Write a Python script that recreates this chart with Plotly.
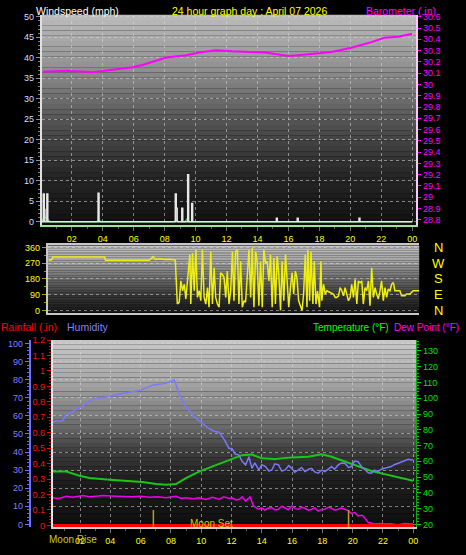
import numpy as np
import plotly.graph_objects as go

# ---------------- data ----------------
hour_ticks = [2, 4, 6, 8, 10, 12, 14, 16, 18, 20, 22, 24]
hour_labels = ["02", "04", "06", "08", "10", "12", "14", "16", "18", "20", "22", "00"]

# barometer (in)
baro_h = [0.13, 1.67, 3.35, 4.44, 5.92, 6.56, 7.46, 8.11, 9.39, 10.23, 11.32, 12.35,
          14.48, 16.02, 17.31, 18.79, 20.07, 21.36, 22.2, 23.1, 24.0]
baro_v = [30.113, 30.122, 30.108, 30.128, 30.152, 30.172, 30.209, 30.239, 30.259, 30.283,
          30.303, 30.294, 30.283, 30.253, 30.268, 30.288, 30.326, 30.375, 30.414, 30.423, 30.449]

# wind gust (mph), step series
gust_h = [0.00, 0.16, 0.22, 0.26, 0.39, 0.45, 3.70, 3.76, 8.69, 8.75, 8.81, 9.11,
          9.17, 9.49, 9.55, 9.75, 9.81, 15.22, 15.28, 16.57, 16.63, 20.56, 20.62, 24.00]
gust_v = [0, 6.8, 3.0, 0, 6.8, 0, 7.0, 0, 6.8, 3.3, 0, 3.3,
          0, 11.5, 0, 4.5, 0, 0.9, 0, 0.9, 0, 0.9, 0, 0]

# average wind (mph)
avg_h = [0.0, 0.12, 0.25, 0.35, 0.5, 0.6, 3.6, 3.7, 3.8, 3.9, 8.6, 8.75, 8.9, 9.3, 9.45, 9.6, 9.75, 24.0]
avg_v = [0, 0.6, 1.1, 1.0, 0.4, 0, 0, 0.3, 0.3, 0, 0, 0.5, 0, 0, 0.7, 0, 0, 0]

# wind direction (deg)
wd_h = [0.06, 0.26, 0.32, 3.67, 3.73, 6.56, 6.69, 6.82, 6.95, 7.21, 7.53, 7.85, 8.24, 8.37,
        8.49, 8.60, 8.71, 8.82, 8.92, 9.03, 9.18, 9.24, 9.35, 9.46, 9.57, 9.67, 9.78, 9.89,
        9.99, 10.10, 10.21, 10.32, 10.42, 10.53, 10.64, 10.75, 10.85, 10.96, 11.07, 11.17,
        11.28, 11.39, 11.50, 11.60, 11.71, 11.82, 11.93, 12.03, 12.14, 12.25, 12.35, 12.46,
        12.57, 12.68, 12.78, 13.00, 13.11, 13.21, 13.32, 13.43, 13.53, 13.64, 13.75, 13.86,
        13.96, 14.07, 14.18, 14.29, 14.39, 14.50, 14.61, 14.71, 14.82, 14.93, 15.04, 15.14,
        15.25, 15.36, 15.46, 15.57, 15.68, 15.79, 15.89, 16.00, 16.10, 16.21, 16.32, 16.43,
        16.53, 16.64, 16.75, 16.81, 16.92, 17.01, 17.13, 17.22, 17.33, 17.43, 17.56, 17.65,
        17.71, 17.82, 17.93, 18.04, 18.25, 18.46, 18.57, 18.68, 18.79, 18.89, 19.00, 19.11,
        19.21, 19.32, 19.43, 19.54, 19.64, 19.75, 19.86, 19.97, 20.07, 20.18, 20.29, 20.39,
        20.50, 20.61, 20.72, 20.82, 20.93, 21.04, 21.15, 21.25, 21.36, 21.47, 21.57, 21.68,
        21.79, 21.90, 22.00, 22.11, 22.22, 22.33, 22.43, 22.54, 22.75, 22.86, 23.08, 23.18,
        23.40, 23.50, 23.61, 23.83, 24.00]
wd_v = [285, 290, 305, 305, 287, 287, 298, 308, 292, 296, 291, 292, 288, 37,
        47, 169, 113, 150, 66, 188, 319, 37, 328, 113, 347, 75, 113, 56,
        347, 75, 37, 131, 19, 337, 37, 244, 75, 37, 19, 216,
        206, 188, 75, 225, 37, 113, 337, 56, 337, 347, 37, 281,
        19, 56, 47, 347, 75, 356, 19, 337, 281, 28, 281, 19,
        347, 272, 281, 169, 319, 19, 300, 37, 309, 206, 0, 281,
        56, 319, 169, 19, 131, 216, 94, 225, 188, 56, 28, 0,
        94, 319, 19, 347, 56, 337, 37, 281, 37, 113, 19, 281,
        56, 150, 94, 113, 103, 94, 75, 75, 84, 131, 113, 84,
        131, 84, 56, 75, 150, 75, 178, 37, 169, 159, 169, 37,
        131, 113, 169, 28, 244, 75, 131, 94, 66, 113, 169, 56,
        131, 75, 122, 113, 150, 159, 113, 113, 113, 84, 84, 94,
        94, 103, 113, 113, 113]

# humidity (%)
hum_h = [0.2, 0.46, 0.66, 0.85, 1.1, 1.38, 1.76, 2.17, 2.63, 3.07, 3.48, 3.95, 4.47, 5.04,
         5.46, 5.92, 6.38, 6.79, 7.1, 7.45, 7.76, 8.1, 8.22, 8.35, 8.55, 8.74, 8.99, 9.2,
         9.42, 9.6, 9.86, 10.19, 10.52, 10.85, 11.18, 11.51, 11.84, 12.03, 12.23, 12.49,
         12.69, 12.93, 13.15, 13.35, 13.54, 13.81, 14.0, 14.25, 14.47, 14.66, 14.86, 15.1,
         15.32, 15.54, 15.78, 15.98, 16.17, 16.42, 16.63, 16.85, 17.1, 17.29, 17.49, 17.73,
         17.95, 18.17, 18.41, 18.61, 18.8, 19.05, 19.26, 19.48, 19.73, 19.92, 20.12, 20.36,
         20.58, 20.8, 21.04, 21.24, 21.43, 21.68, 21.89, 22.11, 22.36, 22.55, 22.75, 22.99,
         23.21, 23.43, 23.67, 23.87, 24.0]
hum_v = [56.5, 57.4, 57, 57.4, 61, 61.5, 63.8, 65.5, 68.3, 69.8, 70, 71, 71.8, 72.8,
         73.3, 74.1, 75.5, 77, 77.3, 77.7, 78.5, 79.2, 80, 77, 72, 69, 64.7, 63,
         61, 59, 57.4, 55, 52.9, 51.5, 51, 47, 42, 42, 39, 38.3,
         35, 32.9, 37.4, 31, 34, 30.1, 33, 32, 29.5, 30.1, 33.5, 32.9,
         29.5, 30.1, 32.5, 31, 28.8, 30.1, 31.5, 29.2, 30.5, 31, 29, 28.3,
         30, 29.2, 31, 32, 30.5, 32.9, 34, 33.8, 31.5, 32, 35, 34.7,
         32, 30.1, 28.5, 28.3, 30, 29.2, 30.5, 31, 31.5, 32, 33, 33.8,
         34.5, 35.6, 36, 35.6, 35.6]

# temperature (F)
temp_h = [0.2, 1.1, 1.97, 2.63, 3.95, 5.04, 6.13, 7.02, 7.67, 8.33, 8.99, 9.86, 10.96, 11.84,
          12.69, 13.35, 14.0, 14.88, 15.98, 17.08, 17.95, 18.61, 19.48, 20.36, 21.24, 22.11,
          22.99, 23.87, 24.0]
temp_v = [53.5, 53.5, 50.8, 49.4, 48.3, 47.7, 46.9, 45.6, 45.2, 45.6, 49.4, 53.5, 57.7, 60.8,
          63.9, 64.3, 61.9, 61.4, 62.5, 62.9, 64.4, 62.9, 59.8, 56.7, 53.9, 51.9,
          49.8, 47.9, 47.7]

# dew point (F)
dew_h = [0.2, 0.6, 1.1, 1.5, 2.19, 2.6, 3.07, 3.5, 4.38, 4.9, 5.48, 6.0, 6.6, 7.1, 7.67, 8.33,
         8.7, 8.99, 9.5, 9.86, 10.3, 10.74, 11.2, 11.5, 11.84, 12.03, 12.3, 12.49, 12.7, 12.93,
         13.23, 13.45, 13.78, 14.0, 14.21, 14.4, 14.66, 14.88, 15.1, 15.32, 15.54, 15.75, 15.98,
         16.2, 16.42, 16.63, 16.85, 17.07, 17.29, 17.5, 17.73, 17.95, 18.17, 18.4, 18.61, 18.83,
         19.05, 19.26, 19.48, 19.7, 19.92, 20.14, 20.36, 20.58, 20.69, 20.9, 21.02, 21.45, 21.8,
         22.11, 22.5, 22.99, 23.43, 23.87, 24.0]
dew_v = [36.9, 36.5, 37.9, 37.2, 38.3, 37.5, 37.9, 38.3, 37.9, 37.5, 37.5, 37.9, 37.2, 37.5,
         36.9, 37.9, 36.5, 36.9, 36.2, 36.9, 35.8, 37.2, 36.0, 37.5, 36.4, 36.9, 35.5, 35.8,
         37.5, 34.8, 37.5, 31.7, 29.6, 30.5, 29.0, 30.3, 30.6, 29.2, 29.6, 31.5, 30.6, 29.3,
         31.7, 30.0, 29.6, 30.8, 30.2, 29.0, 29.6, 30.5, 28.5, 29.5, 29.6, 30.8, 30.2, 29.0,
         29.6, 30.3, 29.6, 28.8, 26.9, 27.5, 25.4, 25.8, 25.4, 22.5, 21.3, 20.2, 20.6,
         20.2, 20.4, 19.8, 20.6, 20.2, 20.2]

# rainfall (in)
rain_h = [0.0, 24.0]
rain_v = [0.0, 0.0]

# sunrise / sunset markers (hours)
sun_h = [6.84, 19.73]

# ---------------- figure ----------------
W, H = 466, 555
def px_x(p):
    return p / W
def px_y(p):
    return 1 - p / H

FONT = "Liberation Sans Narrow, Liberation Sans, Arial, sans-serif"
GRID = "rgba(215,215,215,0.55)"

fig = go.Figure()

fig.add_trace(go.Scatter(x=avg_h, y=avg_v, mode="lines", line=dict(color="#10c010", width=1.5),
                         xaxis="x", yaxis="y", hoverinfo="skip"))
fig.add_trace(go.Scatter(x=gust_h, y=gust_v, mode="lines", line_shape="hv",
                         line=dict(color="#e8e8e8", width=1.5), fill="tozeroy",
                         fillcolor="rgba(190,190,190,0.9)", xaxis="x", yaxis="y", hoverinfo="skip"))
fig.add_trace(go.Scatter(x=baro_h, y=baro_v, mode="lines", line=dict(color="#ff00ff", width=2),
                         xaxis="x", yaxis="y2", hoverinfo="skip"))
fig.add_trace(go.Scatter(x=wd_h, y=wd_v, mode="lines", line=dict(color="#eeee10", width=1.5),
                         xaxis="x2", yaxis="y3", hoverinfo="skip"))
fig.add_trace(go.Scatter(x=temp_h, y=temp_v, mode="lines", line=dict(color="#18c818", width=2),
                         xaxis="x3", yaxis="y4", hoverinfo="skip"))
fig.add_trace(go.Scatter(x=dew_h, y=dew_v, mode="lines", line=dict(color="#ee00ee", width=1.5),
                         xaxis="x3", yaxis="y4", hoverinfo="skip"))
fig.add_trace(go.Scatter(x=hum_h, y=hum_v, mode="lines", line=dict(color="#7878ff", width=1.5),
                         xaxis="x3", yaxis="y5", hoverinfo="skip"))
fig.add_trace(go.Scatter(x=rain_h, y=rain_v, mode="lines", line=dict(color="#ff0000", width=3),
                         xaxis="x3", yaxis="y6", hoverinfo="skip"))
sun_cols = ["#a8a810", "#c09a30"]
for t, c in zip(sun_h, sun_cols):
    fig.add_trace(go.Scatter(x=[t, t], y=[-0.02, 0.1], mode="lines", line=dict(color=c, width=1.5),
                             xaxis="x3", yaxis="y6", hoverinfo="skip"))

# gradient backgrounds
def gradient(xref, yref, stops_pos, stops_val, n=40):
    for i in range(n):
        f0, f1 = i / n, (i + 1) / n
        v = float(np.interp((f0 + f1) / 2, stops_pos, stops_val))
        g = int(round(v))
        fig.add_shape(type="rect", xref=xref, yref=yref, x0=0, x1=1, y0=f0, y1=f1,
                      fillcolor=f"rgb({g},{g},{g})", line_width=0, layer="below")

gradient("x domain", "y domain", [0, 0.25, 0.5, 0.75, 1.0], [16, 40, 85, 145, 188])
gradient("x2 domain", "y3 domain", [0, 0.25, 0.5, 0.75, 1.0], [24, 55, 105, 160, 195])
gradient("x3 domain", "y4 domain", [0, 0.25, 0.4, 0.6, 0.8, 1.0], [14, 30, 60, 125, 170, 200])

tickfont = lambda c: dict(family=FONT, size=9, color=c)

top_dom = [px_y(223), px_y(10)]
mid_dom = [px_y(312), px_y(244)]
bot_dom = [px_y(530), px_y(340)]

fig.update_layout(
    width=W, height=H, autosize=False,
    margin=dict(l=0, r=0, t=0, b=0),
    paper_bgcolor="#000000", plot_bgcolor="rgba(0,0,0,0)",
    showlegend=False,
    xaxis=dict(domain=[px_x(42), px_x(418)], range=[0.064, 24.257], anchor="y",
               tickvals=hour_ticks, ticktext=hour_labels, tickfont=tickfont("#ffff00"),
               ticks="outside", ticklen=4, tickcolor="#707070",
               minor=dict(dtick=1, ticks="outside", ticklen=2, tickcolor="#606060"),
               showgrid=True, gridcolor=GRID, griddash="dot", zeroline=False,
               showline=True, linecolor="#98e898", linewidth=2),
    yaxis=dict(domain=top_dom, range=[-0.72, 50.48], anchor="x",
               tick0=0, dtick=5, tickfont=tickfont("#d4dcff"),
               ticks="outside", ticklen=4, tickcolor="#909090",
               minor=dict(dtick=1, ticks="outside", ticklen=2, tickcolor="#808080"),
               showgrid=True, gridcolor=GRID, griddash="dot", zeroline=False,
               showline=True, linecolor="#e0e0e0", linewidth=2),
    yaxis2=dict(overlaying="y", side="right", anchor="x", range=[28.756, 30.617],
                tick0=28.8, dtick=0.1, tickfont=tickfont("#ff00ff"),
                ticks="outside", ticklen=3, tickcolor="#ff00ff",
                showgrid=False, zeroline=False,
                showline=True, linecolor="#ffc8ff", linewidth=2),
    xaxis2=dict(domain=[px_x(48), px_x(421)], range=[0, 24], anchor="y3",
                showticklabels=False, ticks="", showgrid=False, zeroline=False,
                showline=True, linecolor="#c8c8c8", linewidth=2, mirror=True),
    yaxis3=dict(domain=mid_dom, range=[-11.25, 371.25], anchor="x2",
                tickvals=[0, 90, 180, 270, 360], tickfont=tickfont("#ffff00"),
                ticks="outside", ticklen=4, tickcolor="#a0a000",
                minor=dict(dtick=45, ticks="outside", ticklen=2, tickcolor="#909000"),
                showgrid=True, gridcolor=GRID, griddash="dot", zeroline=False,
                showline=True, linecolor="#c8c8c8", linewidth=2),
    xaxis3=dict(domain=[px_x(53), px_x(418)], range=[0.197, 24.197], anchor="y4",
                tickvals=hour_ticks, ticktext=hour_labels, tickfont=tickfont("#ffff00"),
                ticks="outside", ticklen=4, tickcolor="#707070",
                minor=dict(dtick=1, ticks="outside", ticklen=2, tickcolor="#606060"),
                showgrid=True, gridcolor=GRID, griddash="dot", zeroline=False,
                showline=True, linecolor="#d0d0d0", linewidth=2),
    yaxis4=dict(domain=bot_dom, range=[18.125, 136.875], anchor="x3", side="right",
                tick0=20, dtick=10, tickfont=tickfont("#00e000"),
                ticks="outside", ticklen=4, tickcolor="#00d000",
                minor=dict(dtick=2, ticks="outside", ticklen=2, tickcolor="#00c000"),
                showgrid=False, zeroline=False,
                showline=True, linecolor="#00b000", linewidth=1),
    yaxis5=dict(overlaying="y4", side="left", anchor="free", position=px_x(30),
                range=[-1.635, 101.9], tick0=0, dtick=10, tickfont=tickfont("#8080ff"),
                ticks="outside", ticklen=4, tickcolor="#7070ff",
                minor=dict(dtick=2, ticks="outside", ticklen=2, tickcolor="#6060ff"),
                showgrid=True, gridcolor=GRID, griddash="dot", zeroline=False,
                showline=True, linecolor="#7070ff", linewidth=2),
    yaxis6=dict(overlaying="y4", side="left", anchor="x3", range=[-0.01277, 1.2],
                tick0=0, dtick=0.1, tickfont=tickfont("#ff1010"),
                ticks="outside", ticklen=4, tickcolor="#ff0000",
                minor=dict(dtick=0.02, ticks="outside", ticklen=2, tickcolor="#e00000"),
                showgrid=False, zeroline=False,
                showline=True, linecolor="#e8e8e8", linewidth=2),
)

TF = "Liberation Sans, Arial, sans-serif"
def label(text, x, y, color, anchor="left", size=10.5):
    fig.add_annotation(text=text, x=x, y=y, xref="paper", yref="paper", xanchor=anchor,
                       yanchor="middle", showarrow=False,
                       font=dict(family=TF, size=size, color=color))

label("Windspeed (mph)", px_x(34), px_y(6), "#ffffff")
label("24 hour graph day : April 07 2026", px_x(251), px_y(6), "#ffff00", anchor="center")
label("Barometer (.in)", px_x(440), px_y(6), "#ff00ff", anchor="right")
label("Rainfall (.in)", px_x(-1), px_y(327), "#ff0000")
label("Humidity", px_x(65), px_y(327), "#8080ff")
label("Temperature (°F)", px_x(312), px_y(327), "#00ff00", size=10)
label("Dew Point (°F)", px_x(394), px_y(327), "#ff00ff", size=10)
label("Moon Rise", px_x(73), px_y(542), "#c8c818", anchor="center", size=10)
label("Moon Set", px_x(189), px_y(526), "#c8c818", size=10)

for txt, v in zip(["N", "W", "S", "E", "N"], [360, 270, 180, 90, 0]):
    fig.add_annotation(text=txt, x=px_x(440), y=v, xref="paper", yref="y3", xanchor="center",
                       yanchor="middle", showarrow=False,
                       font=dict(family=TF, size=13, color="#ffff00"))

fig.write_html("out.html",
               config={"displayModeBar": False, "staticPlot": True},
               post_script="document.body.style.margin='0';document.body.style.padding='0';"
                           "document.body.style.background='#000';")
